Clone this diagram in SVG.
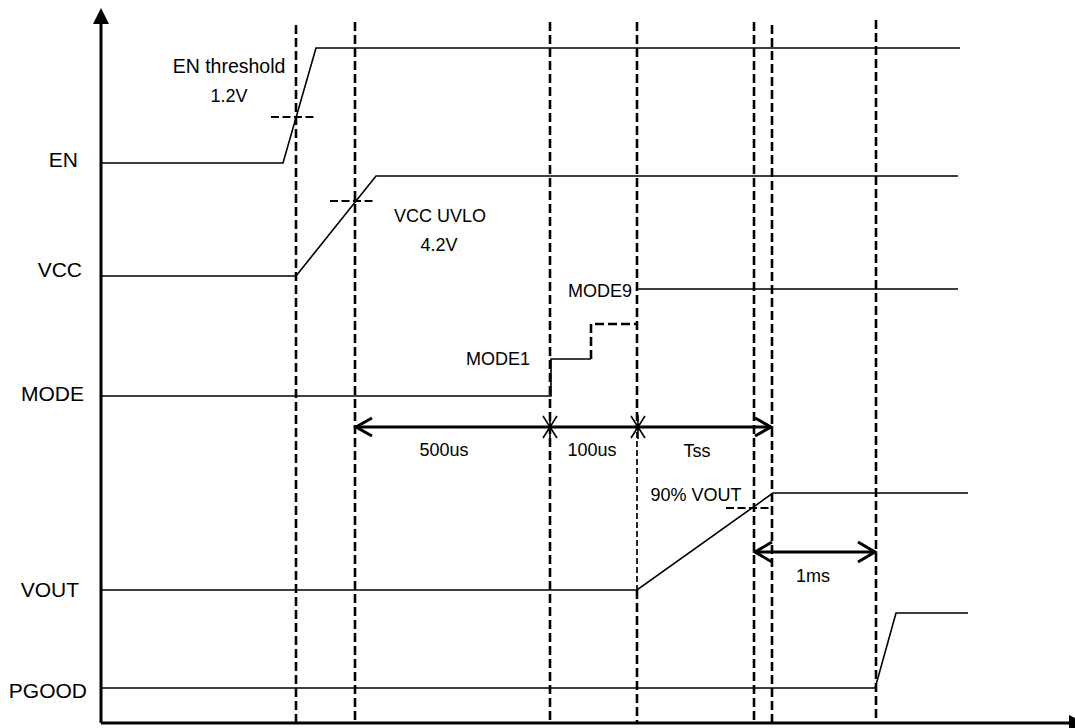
<svg xmlns="http://www.w3.org/2000/svg" width="1075" height="728" viewBox="0 0 1075 728">
<style>
.sig{fill:none;stroke:#000;stroke-width:1.6;stroke-linejoin:miter}
.axis{fill:none;stroke:#000;stroke-width:3}
.guide{fill:none;stroke:#000;stroke-width:2.6;stroke-dasharray:9 4}
.thin{fill:none;stroke:#000;stroke-width:1.7;stroke-dasharray:6 3}
.mark{fill:none;stroke:#000;stroke-width:1.8;stroke-dasharray:8 3.5}
.dim{fill:none;stroke:#000;stroke-width:3}
.head{fill:none;stroke:#000;stroke-width:3;stroke-linejoin:miter}
.star{fill:none;stroke:#000;stroke-width:1.6}
.lbl{font-family:"Liberation Sans",Arial,sans-serif;font-size:21px;fill:#000;text-anchor:end}
.txt{font-family:"Liberation Sans",Arial,sans-serif;font-size:18px;fill:#000;text-anchor:middle}
</style>
<rect width="1075" height="728" fill="#fff"/>
<g id="axes">
<line class="axis" x1="101" y1="22" x2="101" y2="723"/>
<line class="axis" x1="101" y1="723" x2="1070" y2="723"/>
<polygon points="101,8 93,24 109,24" fill="#000"/>
<polygon points="1085,723 1069,715 1069,731" fill="#000"/>
</g>
<g id="guides">
<line class="guide" x1="296" y1="25" x2="296" y2="723"/>
<line class="guide" x1="355" y1="22" x2="355" y2="723"/>
<line class="guide" x1="550" y1="22" x2="550" y2="723"/>
<line class="guide" x1="637" y1="22" x2="637" y2="430"/>
<line class="thin" x1="637" y1="432" x2="637" y2="590"/>
<line class="guide" x1="637" y1="590" x2="637" y2="723"/>
<line class="guide" x1="754" y1="22" x2="754" y2="723"/>
<line class="guide" x1="772" y1="25" x2="772" y2="723"/>
<line class="guide" x1="876" y1="20" x2="876" y2="723"/>
<line class="mark" x1="271" y1="117" x2="317" y2="117"/>
<line class="mark" x1="330" y1="201" x2="376" y2="201"/>
<line class="mark" x1="726" y1="508" x2="772" y2="508"/>
</g>
<g id="EN">
<polyline class="sig" points="101,163 283,163 316,48 960,48"/>
</g>
<g id="VCC">
<polyline class="sig" points="101,276 296,276 376,176 958,176"/>
</g>
<g id="MODE">
<polyline class="sig" points="101,396 551,396 551,359 591,359"/>
<polyline class="guide" points="591,359 591,324 637,324"/>
<line class="sig" x1="637" y1="289" x2="958" y2="289"/>
</g>
<g id="VOUT">
<polyline class="sig" points="101,590 637,590 773,493 968,493"/>
</g>
<g id="PGOOD">
<polyline class="sig" points="101,688 875,688 876,685 896,613 968,613"/>
</g>
<g id="connectors">
<line class="dim" x1="356" y1="427" x2="771" y2="427"/>
<polyline class="head" points="372,418 356,427 372,436"/>
<polyline class="head" points="755,418 771,427 755,436"/>
<path class="star" d="M543,416 L557,438 M557,416 L543,438 M550,415 L550,439"/>
<path class="star" d="M631,416 L645,438 M645,416 L631,438 M638,415 L638,439"/>
<line class="dim" x1="755" y1="552" x2="875" y2="552"/>
<polyline class="head" points="772,542 755,552 772,562"/>
<polyline class="head" points="858,542 875,552 858,562"/>
</g>
<g id="labels">
<text class="lbl" x="78" y="167">EN</text>
<text class="lbl" x="82" y="277">VCC</text>
<text class="lbl" x="84" y="401">MODE</text>
<text class="lbl" x="79" y="597">VOUT</text>
<text class="lbl" x="87" y="698">PGOOD</text>
<text class="txt" x="229" y="73" style="font-size:19.5px">EN threshold</text>
<text class="txt" x="229" y="102">1.2V</text>
<text class="txt" x="440" y="222">VCC UVLO</text>
<text class="txt" x="439" y="251">4.2V</text>
<text class="txt" x="632" y="297" style="text-anchor:end">MODE9</text>
<text class="txt" x="530" y="365" style="text-anchor:end">MODE1</text>
<text class="txt" x="444" y="456">500us</text>
<text class="txt" x="592" y="456">100us</text>
<text class="txt" x="697" y="457">Tss</text>
<text class="txt" x="696" y="501">90% VOUT</text>
<text class="txt" x="813" y="582">1ms</text>
</g>
</svg>
